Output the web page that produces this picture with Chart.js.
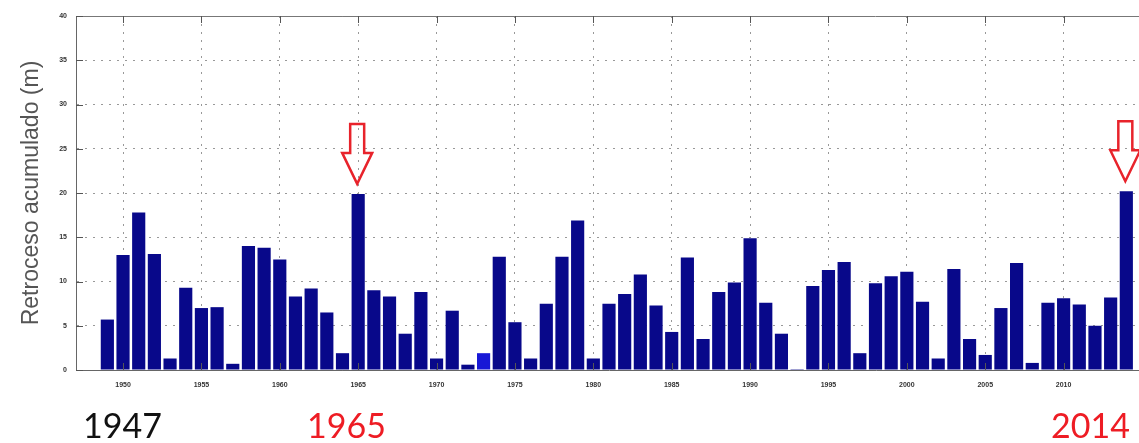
<!DOCTYPE html>
<html>
<head>
<meta charset="utf-8">
<script src="https://cdn.jsdelivr.net/npm/chart.js@4"></script>
<style>
  html, body { margin: 0; padding: 0; background: #fff; overflow: hidden; }
  #wrap { width: 1139px; height: 443px; overflow: hidden; }
</style>
</head>
<body>
<div id="wrap"><canvas id="retroChart" width="1150" height="443"></canvas></div>
<script>
var years = [1949, 1950, 1951, 1952, 1953, 1954, 1955, 1956, 1957, 1958,
             1959, 1960, 1961, 1962, 1963, 1964, 1965, 1966, 1967, 1968,
             1969, 1970, 1971, 1972, 1973, 1974, 1975, 1976, 1977, 1978,
             1979, 1980, 1981, 1982, 1983, 1984, 1985, 1986, 1987, 1988,
             1989, 1990, 1991, 1992, 1993, 1994, 1995, 1996, 1997, 1998,
             1999, 2000, 2001, 2002, 2003, 2004, 2005, 2006, 2007, 2008,
             2009, 2010, 2011, 2012, 2013, 2014];
var retroceso = [5.7, 13.0, 17.8, 13.1, 1.3, 9.3, 7.0, 7.1, 0.7, 14.0,
                 13.8, 12.5, 8.3, 9.2, 6.5, 1.9, 19.9, 9.0, 8.3, 4.1,
                 8.8, 1.3, 6.7, 0.6, 1.9, 12.8, 5.4, 1.3, 7.5, 12.8,
                 16.9, 1.3, 7.5, 8.6, 10.8, 7.3, 4.3, 12.7, 3.5, 8.8,
                 9.9, 14.9, 7.6, 4.1, 0.1, 9.5, 11.3, 12.2, 1.9, 9.8,
                 10.6, 11.1, 7.7, 1.3, 11.4, 3.5, 1.7, 7.0, 12.1, 0.8,
                 7.6, 8.1, 7.4, 5.0, 8.2, 20.2];
var xTicks = [1950, 1955, 1960, 1965, 1970, 1975, 1980, 1985, 1990, 1995, 2000, 2005, 2010];
var yTicks = [0, 5, 10, 15, 20, 25, 30, 35, 40];
var marked = [1965, 2014];

var barCol = years.map(function (y) { return y === 1973 ? '#1818d6' : '#08088a'; });

// frame top, inward ticks, y title, arrows + big year labels under the plot
var extras = {
  id: 'extras',
  afterDraw: function (chart) {
    var ctx = chart.ctx, xs = chart.scales.x, ys = chart.scales.y, ca = chart.chartArea;
    ctx.save();
    ctx.strokeStyle = '#777';
    ctx.lineWidth = 1;
    ctx.beginPath();
    ctx.moveTo(ca.left, ca.top + 0.5);
    ctx.lineTo(ca.right, ca.top + 0.5);
    ctx.stroke();

    // matlab style inward ticks
    ctx.strokeStyle = '#555';
    ctx.beginPath();
    xTicks.forEach(function (t) {
      var px = Math.round(xs.getPixelForValue(t)) + 0.5;
      ctx.moveTo(px, ca.top); ctx.lineTo(px, ca.top + 7);
      ctx.moveTo(px, ca.bottom); ctx.lineTo(px, ca.bottom - 7);
    });
    yTicks.forEach(function (t) {
      var py = Math.round(ys.getPixelForValue(t)) + 0.5;
      ctx.moveTo(ca.left, py); ctx.lineTo(ca.left + 7, py);
    });
    ctx.stroke();

    ctx.save();
    ctx.translate(32, (ca.top + ca.bottom) / 2);
    ctx.rotate(-Math.PI / 2);
    ctx.fillStyle = '#555';
    ctx.font = '23px "Liberation Sans", Arial, sans-serif';
    ctx.textAlign = 'center';
    ctx.textBaseline = 'middle';
    ctx.fillText('Retroceso acumulado (m)', 0, 0);
    ctx.restore();

    ctx.strokeStyle = '#e8232b';
    ctx.lineWidth = 2.5;
    ctx.lineJoin = 'miter';
    marked.forEach(function (yr) {
      var v = retroceso[years.indexOf(yr)];
      var cx = xs.getPixelForValue(yr) - 1;
      var tip = ys.getPixelForValue(v) - 10;
      var top = tip - 60, neck = tip - 31;
      ctx.beginPath();
      ctx.moveTo(cx - 7, top);
      ctx.lineTo(cx + 7, top);
      ctx.lineTo(cx + 7, neck);
      ctx.lineTo(cx + 15, neck);
      ctx.lineTo(cx, tip);
      ctx.lineTo(cx - 15, neck);
      ctx.lineTo(cx - 7, neck);
      ctx.closePath();
      ctx.stroke();
    });

    ctx.font = '34px Lato, "Open Sans", sans-serif';
    ctx.textBaseline = 'alphabetic';
    ctx.textAlign = 'left';
    ctx.fillStyle = '#111';
    ctx.fillText('1947', 83, 438);
    ctx.fillStyle = '#ee1c24';
    ctx.fillText('1965', 307, 438);
    ctx.fillText('2014', 1051, 438);
    ctx.restore();
  }
};

var ctx1 = document.getElementById('retroChart');
var retroChart = new Chart(ctx1, {
  type: 'bar',
  data: {
    datasets: [{
      label: 'Retroceso acumulado (m)',
      data: years.map(function (y, i) { return { x: y, y: retroceso[i] }; }),
      backgroundColor: barCol,
      borderColor: barCol,
      borderWidth: 0,
      barPercentage: 0.84,
      categoryPercentage: 1
    }]
  },
  options: {
    responsive: false,
    animation: false,
    devicePixelRatio: 1,
    layout: { padding: { top: 16, right: 8, left: 0, bottom: 0 } },
    plugins: { legend: { display: false }, tooltip: { enabled: false } },
    scales: {
      x: {
        type: 'linear',
        min: 1947,
        max: 2015,
        offset: false,
        afterBuildTicks: function (scale) {
          scale.ticks = xTicks.map(function (v) { return { value: v }; });
        },
        afterFit: function (scale) { scale.height = 73; },
        grid: { color: '#999', lineWidth: 1, drawTicks: false, offset: false },
        border: { display: true, color: '#666', width: 1, dash: [2, 6] },
        ticks: {
          padding: 11,
          color: '#333',
          font: { size: 7, weight: 'bold', family: '"Liberation Sans", Arial, sans-serif' },
          maxRotation: 0,
          callback: function (v) { return String(v); }
        }
      },
      y: {
        min: 0,
        max: 40,
        afterBuildTicks: function (scale) {
          scale.ticks = yTicks.map(function (v) { return { value: v }; });
        },
        afterFit: function (scale) { scale.width = 76; },
        grid: { color: '#999', lineWidth: 1, drawTicks: false },
        border: { display: true, color: '#666', width: 1, dash: [2, 6] },
        ticks: {
          padding: 9,
          color: '#333',
          font: { size: 7, weight: 'bold', family: '"Liberation Sans", Arial, sans-serif' },
          callback: function (v) { return String(v); }
        }
      }
    }
  },
  plugins: [extras]
});
</script>
</body>
</html>
